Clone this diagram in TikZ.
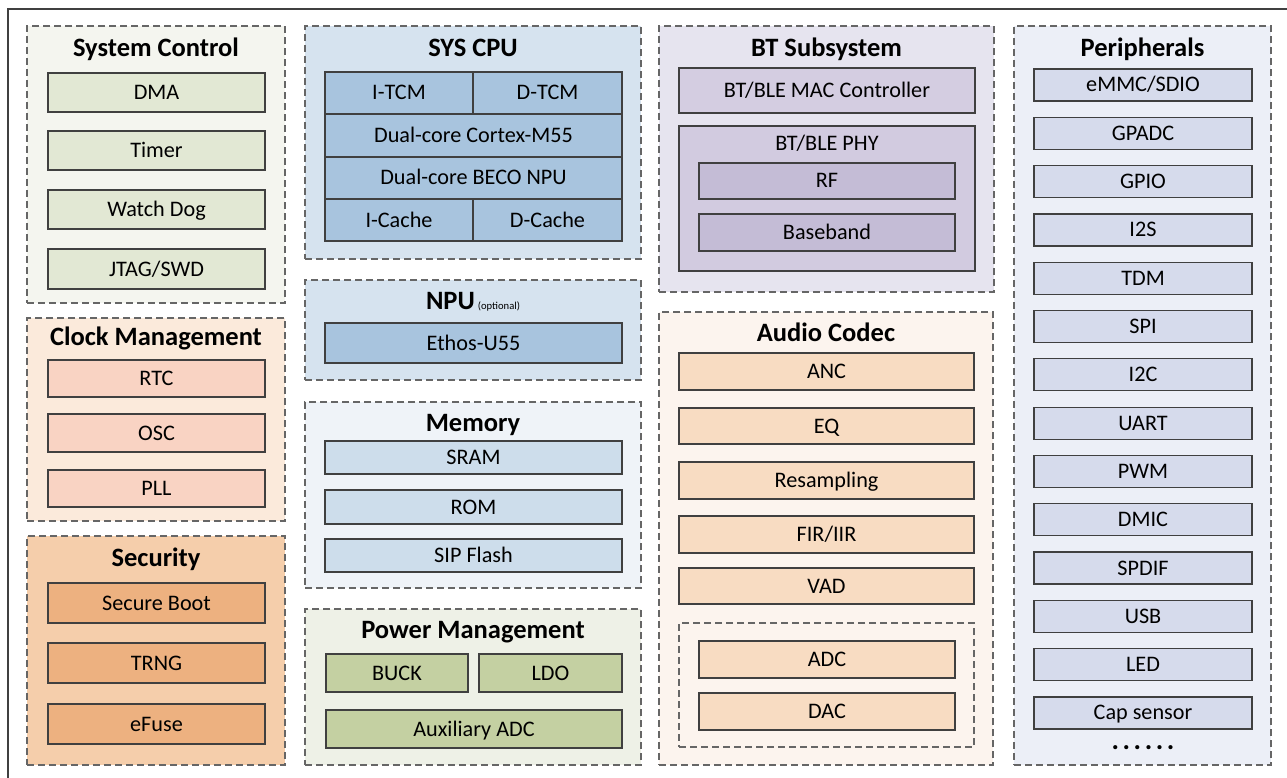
\documentclass[tikz,border=0pt]{standalone}
\usepackage{fontspec}
\setmainfont{Carlito}
\begin{document}
\begin{tikzpicture}[x=1pt,y=-1pt,
  every node/.style={inner sep=0pt,outer sep=0pt},
  grp/.style={draw=black!60,line width=1.4pt,dash pattern=on 7pt off 4pt},
  itm/.style={draw=black!75,line width=1.2pt,font=\fontsize{22.2}{24}\selectfont,text height=14pt,text depth=0pt},
  ttl/.style={font=\bfseries\fontsize{26.5}{30}\selectfont,text height=17.5pt,text depth=0pt},
  lbl/.style={font=\fontsize{22.2}{24}\selectfont,text height=14pt,text depth=0pt}]
\definecolor{scBg}{HTML}{F4F5EF}\definecolor{scIt}{HTML}{E2E8D4}
\definecolor{ckBg}{HTML}{FBEADB}\definecolor{ckIt}{HTML}{F9D3C3}
\definecolor{seBg}{HTML}{F5CEAB}\definecolor{seIt}{HTML}{EDB180}
\definecolor{cpBg}{HTML}{D6E3EF}\definecolor{cpIt}{HTML}{A8C4DE}
\definecolor{meBg}{HTML}{EFF3F8}\definecolor{meIt}{HTML}{CDDDEB}
\definecolor{pwBg}{HTML}{EEF1E7}\definecolor{pwIt}{HTML}{C4D0A2}
\definecolor{btBg}{HTML}{E6E4EF}\definecolor{btMac}{HTML}{D4CDE1}
\definecolor{btPhy}{HTML}{D2CBE0}\definecolor{btRf}{HTML}{C4BCD6}
\definecolor{auBg}{HTML}{FCF4EE}\definecolor{auIt}{HTML}{F8DCC2}
\definecolor{peBg}{HTML}{ECEFF7}\definecolor{peIt}{HTML}{D6DBEC}
\newcommand\blk[7][]{\node[#1,minimum width={#5-#3},minimum height={#6-#4},anchor=north west] (#2) at (#3,#4) {#7};}
\useasboundingbox (0,0) rectangle (1287,778);
% outer frame (only top and left edges are inside the picture)
\coordinate (frTR) at (1287,9);
\coordinate (frTL) at (8,9);
\coordinate (frBL) at (8,778);
\draw[line width=2.6pt,draw=black!75] (frTR) -- (frTL) -- (frBL);
% System Control
\blk[grp,fill=scBg]{sc}{27}{26}{285}{303}{}
\node[ttl] (scT) at (156,48) {System Control};
\blk[itm,fill=scIt]{dma}{48}{73}{265}{112}{DMA}
\blk[itm,fill=scIt]{timer}{48}{131}{265}{170}{Timer}
\blk[itm,fill=scIt]{wdog}{48}{190}{265}{229}{Watch Dog}
\blk[itm,fill=scIt]{jtag}{48}{249}{265}{289}{JTAG/SWD}
% Clock Management
\blk[grp,fill=ckBg]{ck}{27}{318}{285}{521}{}
\node[ttl] (ckT) at (156,337) {Clock Management};
\blk[itm,fill=ckIt]{rtc}{48}{360}{265}{397}{RTC}
\blk[itm,fill=ckIt]{osc}{48}{414}{265}{452}{OSC}
\blk[itm,fill=ckIt]{pll}{48}{470}{265}{507}{PLL}
% Security
\blk[grp,fill=seBg]{se}{27}{536}{285}{765}{}
\node[ttl] (seT) at (156,558) {Security};
\blk[itm,fill=seIt]{sboot}{48}{583}{265}{623}{Secure Boot}
\blk[itm,fill=seIt]{trng}{48}{643}{265}{683}{TRNG}
\blk[itm,fill=seIt]{efuse}{48}{704}{265}{744}{eFuse}
% SYS CPU
\blk[grp,fill=cpBg]{cpu}{305}{26}{641}{259}{}
\node[ttl] (cpuT) at (473,48) {SYS CPU};
\blk[itm,fill=cpIt]{itcm}{325}{72}{473}{114}{I-TCM}
\blk[itm,fill=cpIt]{dtcm}{473}{72}{622}{114}{D-TCM}
\blk[itm,fill=cpIt]{m55}{325}{114}{622}{157}{Dual-core Cortex-M55}
\blk[itm,fill=cpIt]{beco}{325}{157}{622}{199}{Dual-core BECO NPU}
\blk[itm,fill=cpIt]{icache}{325}{199}{473}{241}{I-Cache}
\blk[itm,fill=cpIt]{dcache}{473}{199}{622}{241}{D-Cache}
% NPU
\blk[grp,fill=cpBg]{npu}{305}{280}{641}{380}{}
\node[ttl] (npuT) at (473,301) {NPU\hspace{3pt}{\mdseries\fontsize{10.6}{12}\selectfont(optional)}};
\blk[itm,fill=cpIt]{ethos}{325}{323}{622}{363}{Ethos-U55}
% Memory
\blk[grp,fill=meBg]{mem}{305}{402}{641}{588}{}
\node[ttl] (memT) at (473,423) {Memory};
\blk[itm,fill=meIt]{sram}{325}{441}{622}{474}{SRAM}
\blk[itm,fill=meIt]{rom}{325}{490}{622}{524}{ROM}
\blk[itm,fill=meIt]{sip}{325}{539}{622}{572}{SIP Flash}
% Power Management
\blk[grp,fill=pwBg]{pw}{305}{609}{641}{765}{}
\node[ttl] (pwT) at (473,630) {Power Management};
\blk[itm,fill=pwIt]{buck}{326}{654}{468}{692}{BUCK}
\blk[itm,fill=pwIt]{ldo}{479}{654}{622}{692}{LDO}
\blk[itm,fill=pwIt]{aux}{326}{710}{622}{748}{Auxiliary ADC}
% BT Subsystem
\blk[grp,fill=btBg]{bt}{659}{26}{994}{292}{}
\node[ttl] (btT) at (826.5,48) {BT Subsystem};
\blk[itm,fill=btMac]{mac}{679}{68}{975}{113}{BT/BLE MAC Controller}
\blk[itm,fill=btPhy]{phy}{679}{126}{975}{271}{}
\node[lbl] (phyT) at (827,144) {BT/BLE PHY};
\blk[itm,fill=btRf]{rf}{699}{163}{955}{199}{RF}
\blk[itm,fill=btRf]{bb}{699}{214}{955}{251}{Baseband}
% Audio Codec
\blk[grp,fill=auBg]{au}{659}{312}{993}{765}{}
\node[ttl] (auT) at (826,333) {Audio Codec};
\blk[itm,fill=auIt]{anc}{679}{353}{974}{390}{ANC}
\blk[itm,fill=auIt]{eq}{679}{408}{974}{444}{EQ}
\blk[itm,fill=auIt]{resamp}{679}{462}{974}{499}{Resampling}
\blk[itm,fill=auIt]{fir}{679}{516}{974}{553}{FIR/IIR}
\blk[itm,fill=auIt]{vad}{679}{568}{974}{604}{VAD}
\blk[grp,fill=auBg]{conv}{679}{623}{974}{747}{}
\blk[itm,fill=auIt]{adc}{699}{641}{955}{678}{ADC}
\blk[itm,fill=auIt]{dac}{699}{693}{955}{730}{DAC}
% Peripherals
\blk[grp,fill=peBg]{pe}{1014}{26}{1271}{765}{}
\node[ttl] (peT) at (1142.5,48) {Peripherals};
\foreach \t [count=\i from 0] in {eMMC/SDIO,GPADC,GPIO,I2S,TDM,SPI,I2C,UART,PWM,DMIC,SPDIF,USB,LED,Cap sensor}{
  \pgfmathsetmacro\ytop{69+48.3*\i}
  \pgfmathsetmacro\ybot{\ytop+32}
  \blk[itm,fill=peIt]{pe\i}{1034}{\ytop}{1252}{\ybot}{\t}
}
\node[font=\bfseries\fontsize{28}{30}\selectfont,anchor=base] (dots) at (1143,749) {.\hspace{3.6pt}.\hspace{3.6pt}.\hspace{3.6pt}.\hspace{3.6pt}.\hspace{3.6pt}.};
\end{tikzpicture}
\end{document}
